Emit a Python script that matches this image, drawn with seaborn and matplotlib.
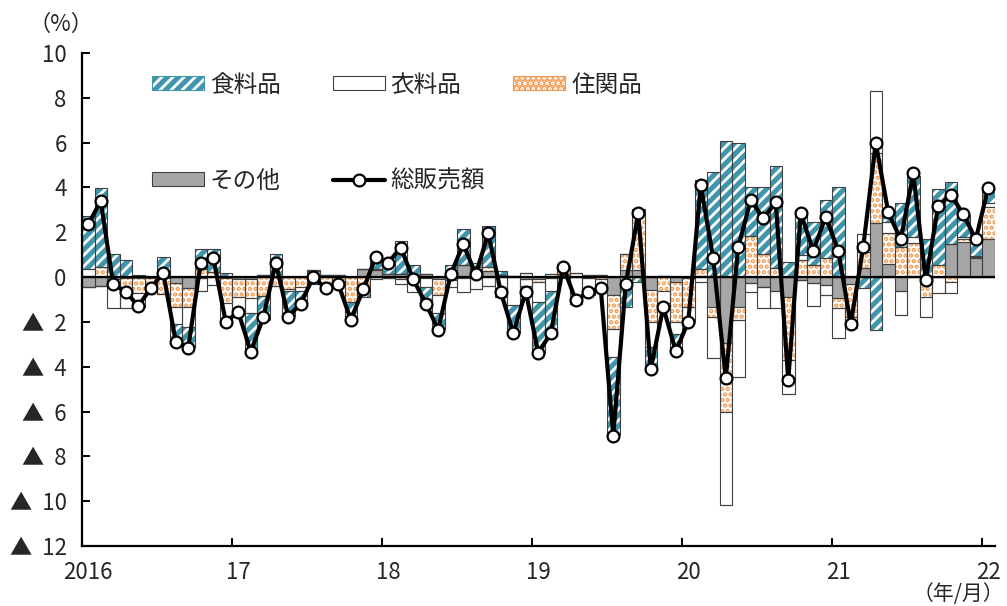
import numpy as np
import pandas as pd
import matplotlib
matplotlib.use("Agg")
import matplotlib.pyplot as plt
from matplotlib.patches import Patch
from matplotlib.lines import Line2D
import seaborn as sns

# ---------------- data (percent contribution, monthly 2016/01 - 2022/01) ----------------
months = [f"{y}/{m:02d}" for y in range(2016, 2022) for m in range(1, 13)] + ["2022/01"]

other = [-0.43, -0.40, -0.10, -0.05, -0.05, -0.05, -0.05, -0.28, -0.50, -0.05, 0.00, -0.05,
         -0.10, -0.10, 0.10, 0.00, 0.00, 0.00, 0.25, 0.10, 0.10, 0.00, 0.34, 0.30,
         0.15, 0.15, 0.12, 0.12, -0.10, -0.05, 0.55, 0.35, 0.25, 0.05, 0.05, -0.10,
         -0.10, -0.05, 0.15, 0.00, -0.05, 0.10, -0.80, 0.30, 0.30, -0.58, 0.05, -0.20,
         -0.05, 0.05, -1.32, -2.96, -1.32, -0.28, -0.46, -0.60, -0.88, -0.13, -0.28, -0.36,
         -0.95, -0.30, 0.39, 2.40, 0.58, -0.61, 0.05, -0.13, 0.00, 1.47, 1.55, 0.85,
         1.68]
housing = [0.07, 0.46, 0.00, -0.60, -0.65, -0.35, -0.70, -1.04, -0.82, 0.38, 0.24, -1.10,
           -0.80, -0.85, -0.85, -0.40, -0.55, -0.45, 0.05, -0.30, -0.20, -1.10, -0.60, 0.05,
           -0.05, -0.10, -0.10, -0.05, -0.70, -0.10, -0.05, 0.10, 0.20, 0.05, 0.00, 0.20,
           -0.10, 0.15, 0.30, 0.20, 0.10, -0.10, -1.50, 0.75, 2.70, -1.41, -0.60, -1.80,
           -1.30, 0.30, -0.48, -3.05, -0.60, 1.83, 1.03, 0.39, -2.83, 0.76, 0.54, 0.83,
           -0.45, -1.50, 0.74, 3.12, 1.40, 1.35, 1.45, -0.75, 0.54, -0.20, 0.13, 0.05,
           1.46]
clothing = [0.28, 0.00, -1.28, -0.75, -0.65, -0.15, 0.00, -0.77, -0.90, -0.55, -0.35, -1.00,
            -0.60, -0.65, 0.00, 0.00, -0.05, -0.15, -0.10, -0.10, -0.10, 0.00, -0.05, -0.10,
            0.00, -0.20, -0.55, -0.40, -0.80, -0.30, -0.60, -0.55, -0.40, -0.90, -1.25, -0.30,
            -0.90, -0.55, 0.05, -0.85, -0.60, -0.35, -1.26, -0.35, 0.05, -1.12, -0.55, -0.52,
            -0.50, -0.20, -1.83, -4.14, -2.53, -0.37, -0.90, -0.80, -1.52, 0.22, -1.01, -0.45,
            -1.34, -0.10, 0.79, 2.80, 0.49, -1.06, 0.30, -0.92, -0.73, -0.52, 0.12, 0.05,
            0.18]
food = [2.38, 3.50, 1.04, 0.75, 0.10, 0.05, 0.88, -0.85, -0.90, 0.88, 1.00, 0.20,
        -0.10, -1.70, -1.05, 1.05, -1.15, -0.55, -0.20, -0.20, -0.10, -0.80, -0.25, 0.70,
        0.55, 1.45, 0.42, -0.85, -0.70, 0.55, 1.60, 0.20, 1.85, 0.15, -1.25, -0.45,
        -2.30, -2.05, -0.05, -0.35, -0.15, -0.15, -3.50, -1.00, -0.20, -0.95, -0.25, -0.74,
        -0.15, 4.00, 4.70, 6.09, 5.97, 2.20, 3.00, 4.58, 0.68, 2.00, 1.93, 2.63,
        4.03, -0.35, -0.50, -2.37, 0.45, 1.97, 2.70, 1.68, 3.38, 2.78, 0.97, 0.75,
        0.57]
total = [2.35, 3.40, -0.33, -0.65, -1.30, -0.50, 0.20, -2.88, -3.15, 0.64, 0.86, -2.00,
         -1.55, -3.33, -1.80, 0.64, -1.77, -1.18, 0.00, -0.50, -0.30, -1.90, -0.55, 0.90,
         0.64, 1.32, -0.10, -1.18, -2.34, 0.13, 1.47, 0.13, 1.95, -0.65, -2.50, -0.65,
         -3.38, -2.51, 0.46, -1.03, -0.68, -0.50, -7.08, -0.31, 2.84, -4.10, -1.35, -3.30,
         -2.00, 4.10, 0.83, -4.52, 1.35, 3.44, 2.62, 3.33, -4.60, 2.84, 1.18, 2.69,
         1.18, -2.10, 1.35, 6.00, 2.89, 1.68, 4.63, -0.13, 3.17, 3.68, 2.81, 1.68,
         3.99]

series_names = ["その他", "住関品", "衣料品", "食料品"]
year_labels = ["2016", "17", "18", "19", "20", "21", "22"]
y_ticks = list(range(-12, 11, 2))

# ---------------- styling ----------------
sns.set_theme(style="white")
plt.rcParams["font.family"] = ["Noto Sans CJK JP", "DejaVu Sans"]
plt.rcParams["axes.unicode_minus"] = False

C_FOOD = "#3f95ab"
C_HOUSE = "#f39a4e"
C_OTHER = "#a6a6a6"
C_EDGE = "#404040"

styles = {
    "その他": dict(face=C_OTHER, hatchcol=None, hatch=None, hlw=1.0),
    "住関品": dict(face="white", hatchcol=C_HOUSE, hatch="...", hlw=2.2),
    "衣料品": dict(face="white", hatchcol=None, hatch=None, hlw=1.0),
    "食料品": dict(face="white", hatchcol=C_FOOD, hatch="///", hlw=3.6),
}

fig = plt.figure(figsize=(10.07, 6.06), dpi=100)
ax = fig.add_axes([82 / 1007, 1 - 546 / 606, (994.5 - 82) / 1007, (546 - 53) / 606])

x = np.arange(len(months))
data = {"その他": np.array(other), "住関品": np.array(housing),
        "衣料品": np.array(clothing), "食料品": np.array(food)}

pos_bottom = np.zeros(len(x))
neg_bottom = np.zeros(len(x))


def set_hlw(artists, lw):
    for a in artists:
        if hasattr(a, "set_hatch_linewidth"):
            a.set_hatch_linewidth(lw)


def draw(vals, bottom, st):
    if st["hatch"]:
        plt.rcParams["hatch.linewidth"] = st["hlw"]
        bars = ax.bar(x, vals, bottom=bottom, width=1.0, facecolor=st["face"],
                      edgecolor=st["hatchcol"], hatch=st["hatch"], linewidth=0, zorder=2)
        set_hlw(bars, st["hlw"])
    else:
        ax.bar(x, vals, bottom=bottom, width=1.0, facecolor=st["face"],
               edgecolor="none", linewidth=0, zorder=2)
    ax.bar(x, vals, bottom=bottom, width=1.0, facecolor="none",
           edgecolor=C_EDGE, linewidth=0.8, zorder=2.5)


for name in series_names:
    v = data[name]
    pos = np.clip(v, 0, None)
    neg = np.clip(v, None, 0)
    draw(pos, pos_bottom, styles[name])
    draw(neg, neg_bottom, styles[name])
    pos_bottom = pos_bottom + pos
    neg_bottom = neg_bottom + neg

ax.axhline(0, color="black", lw=1.6, zorder=3)

df = pd.DataFrame({"x": x, "total": total})
sns.lineplot(data=df, x="x", y="total", ax=ax, color="black", lw=3.0, marker="o",
             markersize=8.5, markerfacecolor="white", markeredgecolor="black",
             markeredgewidth=1.6, zorder=4)

# ---------------- axes ----------------
ax.set_xlim(-0.5, len(x) - 0.5)
ax.set_ylim(-12, 10)
ax.set_xlabel("")
ax.set_ylabel("")
for s in ["top", "right"]:
    ax.spines[s].set_visible(False)
for s in ["left", "bottom"]:
    ax.spines[s].set_color("black")
    ax.spines[s].set_linewidth(1.6)

ax.set_yticks(y_ticks)
ax.set_yticklabels([f"▲  {abs(v)}" if v < 0 else str(v) for v in y_ticks])
ax.tick_params(axis="y", direction="in", length=6, width=1.4, color="black",
               labelsize=16, pad=11, left=True)

major_x = [12 * k - 0.5 for k in range(len(year_labels))]
minor_x = [12 * k for k in range(len(year_labels))]
ax.set_xticks(major_x)
ax.set_xticklabels([""] * len(major_x))
ax.set_xticks(minor_x, minor=True)
ax.set_xticklabels(year_labels, minor=True)
ax.tick_params(axis="x", which="major", direction="in", length=6, width=1.4,
               color="black", bottom=True)
ax.tick_params(axis="x", which="minor", length=0, labelsize=16, pad=11, bottom=True)

fig.text(28 / 1007, 1 - 24 / 606, "（%）", fontsize=16, va="center", ha="left")
fig.text(1004 / 1007, 1 / 606, "（年/月）", fontsize=15, va="bottom", ha="right")

# ---------------- legend ----------------
def patch_handle(name):
    st = styles[name]
    if st["hatch"]:
        p = Patch(facecolor=st["face"], edgecolor=st["hatchcol"], hatch=st["hatch"], linewidth=0.8)
        set_hlw([p], st["hlw"])
    else:
        p = Patch(facecolor=st["face"], edgecolor=C_EDGE, linewidth=0.8)
    return p


leg_kw = dict(frameon=False, fontsize=17, handlelength=2.2, handleheight=0.5,
              handletextpad=0.25, columnspacing=2.2, borderpad=0, borderaxespad=0,
              loc="center left", bbox_transform=fig.transFigure)

h1 = [patch_handle("食料品"), patch_handle("衣料品"), patch_handle("住関品")]
leg1 = ax.legend(h1, ["食料品", "衣料品", "住関品"], ncol=3,
                 bbox_to_anchor=(152 / 1007, 1 - 85 / 606), **leg_kw)
ax.add_artist(leg1)
line_h = Line2D([], [], color="black", lw=3.0, marker="o", markersize=8.5,
                markerfacecolor="white", markeredgecolor="black", markeredgewidth=1.6)
leg2 = ax.legend([patch_handle("その他"), line_h], ["その他", "総販売額"], ncol=2,
                 bbox_to_anchor=(152 / 1007, 1 - 181 / 606), **leg_kw)

fig.savefig("out.png", dpi=100)
